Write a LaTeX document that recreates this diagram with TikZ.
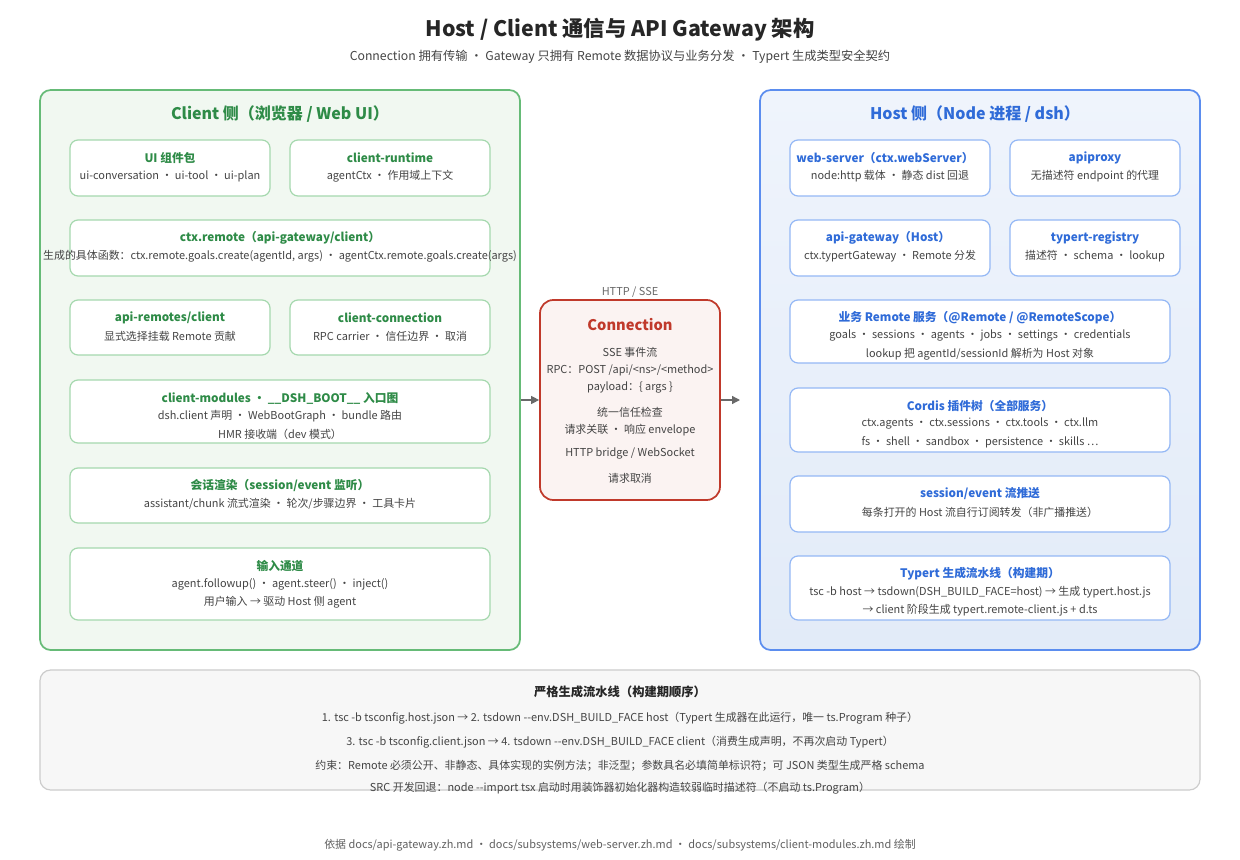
\documentclass[tikz,border=0pt]{standalone}
\usepackage{fontspec}
\setmainfont{Noto Sans CJK SC}
\usetikzlibrary{fit,arrows.meta}
\definecolor{gtxt}{HTML}{2E8B47}
\definecolor{gline}{HTML}{66BB77}
\definecolor{gbox}{HTML}{A5D8AE}
\definecolor{gfill}{HTML}{F1F8F1}
\definecolor{btxt}{HTML}{2F6BD8}
\definecolor{bline}{HTML}{5B8DEF}
\definecolor{bbox}{HTML}{94B8F5}
\definecolor{htop}{HTML}{EFF4FC}
\definecolor{hbot}{HTML}{E2EBF8}
\definecolor{rline}{HTML}{C0392B}
\definecolor{rfill}{HTML}{FBF3F2}
\definecolor{gray}{HTML}{444444}
\newcommand{\dd}{-\mbox{}-}
\tikzset{
 x=0.75pt,y=-0.75pt,
 fb/.style={fit={#1},inner sep=0pt,rounded corners=6pt},
 gb/.style={draw=gbox,line width=0.9pt,fill=white},
 bb/.style={draw=bbox,line width=0.9pt,fill=white},
 gh/.style={text=gtxt,font=\fontsize{8.8}{10}\selectfont\bfseries},
 bh/.style={text=btxt,font=\fontsize{8.8}{10}\selectfont\bfseries},
 tx/.style={text=gray,font=\fontsize{8.2}{9}\selectfont},
 arr/.style={draw=gray!80,line width=1pt,-{Triangle[length=6pt,width=6pt]}}
}
\begin{document}
\begin{tikzpicture}
\useasboundingbox (0,0) rectangle (1240,860);
\fill[white] (0,0) rectangle (1240,860);
\node[font=\fontsize{16}{18}\selectfont\bfseries,text=black!85] (t) at (620,30) {Host / Client 通信与 API Gateway 架构};
\node[tx,font=\fontsize{9.2}{10}\selectfont] (st) at (620,57) {Connection 拥有传输 · Gateway 只拥有 Remote 数据协议与业务分发 · Typert 生成类型安全契约};
% client
\node[fb={(40,90)(520,650)},draw=gline,fill=gfill,line width=1.3pt,rounded corners=8pt] (C) {};
\node[text=gtxt,font=\fontsize{12}{14}\selectfont\bfseries] (Ct) at (280,114) {Client 侧（浏览器 / Web UI）};
\node[fb={(70,140)(270,196)},gb] (c1) {};
\node[gh] (c1a) at (170,158) {UI 组件包};
\node[tx] (c1b) at (170,176) {ui-conversation · ui-tool · ui-plan};
\node[fb={(290,140)(490,196)},gb] (c2) {};
\node[gh] (c2a) at (390,158) {client-runtime};
\node[tx] (c2b) at (390,176) {agentCtx · 作用域上下文};
\node[fb={(70,220)(490,276)},gb] (c3) {};
\node[gh] (c3a) at (280,238) {ctx.remote（api-gateway/client）};
\node[tx] (c3b) at (280,256) {生成的具体函数：ctx.remote.goals.create(agentId, args) · agentCtx.remote.goals.create(args)};
\node[fb={(70,300)(270,355)},gb] (c4) {};
\node[gh] (c4a) at (170,318) {api-remotes/client};
\node[tx] (c4b) at (170,336) {显式选择挂载 Remote 贡献};
\node[fb={(290,300)(490,355)},gb] (c5) {};
\node[gh] (c5a) at (390,318) {client-connection};
\node[tx] (c5b) at (390,336) {RPC carrier · 信任边界 · 取消};
\node[fb={(70,380)(490,443)},gb] (c6) {};
\node[gh] (c6a) at (280,398) {client-modules · \_\_DSH\_BOOT\_\_ 入口图};
\node[tx] (c6b) at (280,416) {dsh.client 声明 · WebBootGraph · bundle 路由};
\node[tx] (c6c) at (280,434) {HMR 接收端（dev 模式）};
\node[fb={(70,468)(490,523)},gb] (c7) {};
\node[gh] (c7a) at (280,486) {会话渲染（session/event 监听）};
\node[tx] (c7b) at (280,504) {assistant/chunk 流式渲染 · 轮次/步骤边界 · 工具卡片};
\node[fb={(70,548)(490,620)},gb] (c8) {};
\node[gh] (c8a) at (280,566) {输入通道};
\node[tx] (c8b) at (280,584) {agent.followup() · agent.steer() · inject()};
\node[tx] (c8c) at (280,602) {用户输入 → 驱动 Host 侧 agent};
% connection
\node[tx,text=gray!80] (hs) at (630,292) {HTTP / SSE};
\node[fb={(540,300)(720,500)},draw=rline,fill=rfill,line width=1.3pt,rounded corners=10pt] (K) {};
\node[text=rline,font=\fontsize{11}{12}\selectfont\bfseries] (Ka) at (630,325) {Connection};
\node[tx] (K1) at (630,352) {SSE 事件流};
\node[tx] (K2) at (630,370) {RPC：POST /api/<ns>/<method>};
\node[tx] (K3) at (630,388) {payload：\{ args \}};
\node[tx] (K4) at (630,412) {统一信任检查};
\node[tx] (K5) at (630,430) {请求关联 · 响应 envelope};
\node[tx] (K6) at (630,454) {HTTP bridge / WebSocket};
\node[tx] (K7) at (630,478) {请求取消};
% host
\node[fb={(760,90)(1200,650)},draw=bline,top color=htop,bottom color=hbot,line width=1.3pt,rounded corners=8pt] (H) {};
\node[text=btxt,font=\fontsize{12}{14}\selectfont\bfseries] (Ht) at (975,114) {Host 侧（Node 进程 / dsh）};
\node[fb={(790,140)(990,196)},bb] (h1) {};
\node[bh] (h1a) at (885,158) {web-server（ctx.webServer）};
\node[tx] (h1b) at (890,176) {node:http 载体 · 静态 dist 回退};
\node[fb={(1010,140)(1180,196)},bb] (h2) {};
\node[bh] (h2a) at (1095,158) {apiproxy};
\node[tx] (h2b) at (1095,176) {无描述符 endpoint 的代理};
\node[fb={(790,220)(990,276)},bb] (h3) {};
\node[bh] (h3a) at (888,238) {api-gateway（Host）};
\node[tx] (h3b) at (890,256) {ctx.typertGateway · Remote 分发};
\node[fb={(1010,220)(1180,276)},bb] (h4) {};
\node[bh] (h4a) at (1095,238) {typert-registry};
\node[tx] (h4b) at (1095,256) {描述符 · schema · lookup};
\node[fb={(790,300)(1170,363)},bb] (h5) {};
\node[bh] (h5a) at (980,318) {业务 Remote 服务（@Remote / @RemoteScope）};
\node[tx] (h5b) at (980,336) {goals · sessions · agents · jobs · settings · credentials};
\node[tx] (h5c) at (980,354) {lookup 把 agentId/sessionId 解析为 Host 对象};
\node[fb={(790,388)(1170,452)},bb] (h6) {};
\node[bh] (h6a) at (980,406) {Cordis 插件树（全部服务）};
\node[tx] (h6b) at (980,424) {ctx.agents · ctx.sessions · ctx.tools · ctx.llm};
\node[tx] (h6c) at (980,442) {fs · shell · sandbox · persistence · skills …};
\node[fb={(790,476)(1170,532)},bb] (h7) {};
\node[bh] (h7a) at (980,494) {session/event 流推送};
\node[tx] (h7b) at (980,512) {每条打开的 Host 流自行订阅转发（非广播推送）};
\node[fb={(790,556)(1170,620)},bb] (h8) {};
\node[bh] (h8a) at (980,574) {Typert 生成流水线（构建期）};
\node[tx] (h8b) at (980,592) {tsc -b host → tsdown(DSH\_BUILD\_FACE=host) → 生成 typert.host.js};
\node[tx] (h8c) at (980,610) {→ client 阶段生成 typert.remote-client.js + d.ts};
% arrows
\coordinate (ae) at (740,400);
\draw[arr] (C.east |- K.west) -- (K.west);
\draw[arr] (K.east) -- (ae);
% bottom
\node[fb={(40,670)(1200,790)},draw=black!20,fill=black!3,line width=0.9pt,rounded corners=8pt] (B) {};
\node[font=\fontsize{9.2}{10}\selectfont\bfseries,text=black!85] (Ba) at (620,692) {严格生成流水线（构建期顺序）};
\node[tx] (B1) at (620,718) {1. tsc -b tsconfig.host.json → 2. tsdown \dd env.DSH\_BUILD\_FACE host（Typert 生成器在此运行，唯一 ts.Program 种子）};
\node[tx] (B2) at (620,742) {3. tsc -b tsconfig.client.json → 4. tsdown \dd env.DSH\_BUILD\_FACE client（消费生成声明，不再次启动 Typert）};
\node[tx] (B3) at (620,766) {约束：Remote 必须公开、非静态、具体实现的实例方法；非泛型；参数具名必填简单标识符；可 JSON 类型生成严格 schema};
\node[tx] (B4) at (620,788) {SRC 开发回退：node \dd import tsx 启动时用装饰器初始化器构造较弱临时描述符（不启动 ts.Program）};
\node[tx,text=gray!85] (F) at (620,845) {依据 docs/api-gateway.zh.md · docs/subsystems/web-server.zh.md · docs/subsystems/client-modules.zh.md 绘制};
\end{tikzpicture}
\end{document}
